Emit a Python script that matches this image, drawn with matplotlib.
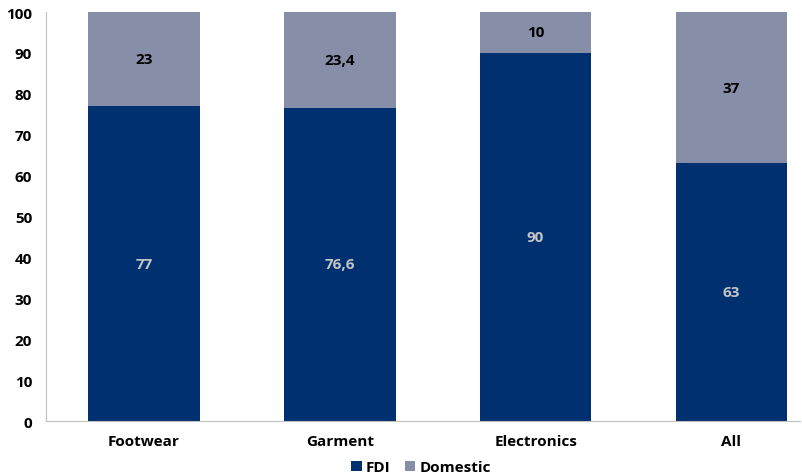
import numpy as np
import matplotlib
matplotlib.use('Agg')
import matplotlib.pyplot as plt

categories = ['Footwear', 'Garment', 'Electronics', 'All']
fdi = [77, 76.6, 90, 63]
domestic = [23, 23.4, 10, 37]
fdi_labels = ['77', '76,6', '90', '63']
dom_labels = ['23', '23,4', '10', '37']

plt.rcParams['font.family'] = ['Open Sans', 'DejaVu Sans']
plt.rcParams['font.weight'] = 'bold'

fig = plt.figure(figsize=(8.02, 4.77), dpi=100)
ax = fig.add_axes([0.0574, 0.1153, 0.9401, 0.8574])

x = np.arange(len(categories))
w = 0.57
b1 = ax.bar(x, fdi, w, color='#00306f', label='FDI')
b2 = ax.bar(x, domestic, w, bottom=fdi, color='#878ea8', label='Domestic')

for i in range(len(x)):
    ax.text(x[i], fdi[i] / 2, fdi_labels[i], ha='center', va='center',
            color='#c4c4c4', fontsize=11, fontweight='bold')
    ax.text(x[i], fdi[i] + domestic[i] / 2, dom_labels[i], ha='center', va='center',
            color='black', fontsize=11, fontweight='bold')

ax.set_xlim(-0.5, 3.35)
ax.set_ylim(0, 100)
ax.set_yticks(range(0, 101, 10))
ax.set_xticks(x)
ax.set_xticklabels(categories)
ax.tick_params(length=0, labelsize=11)
ax.tick_params(axis='x', pad=9)
ax.tick_params(axis='y', pad=10)
for lab in ax.get_xticklabels() + ax.get_yticklabels():
    lab.set_fontweight('bold')
ax.spines['top'].set_visible(False)
ax.spines['right'].set_visible(False)
ax.spines['left'].set_color('#bfbfbf')
ax.spines['bottom'].set_color('#bfbfbf')

fig.legend(handles=[b1, b2], loc='center', bbox_to_anchor=(0.525, 0.018), ncol=2,
           frameon=False, fontsize=11, handlelength=0.7, handleheight=0.7,
           handletextpad=0.3, columnspacing=0.9)

fig.savefig('out.png', dpi=100)
